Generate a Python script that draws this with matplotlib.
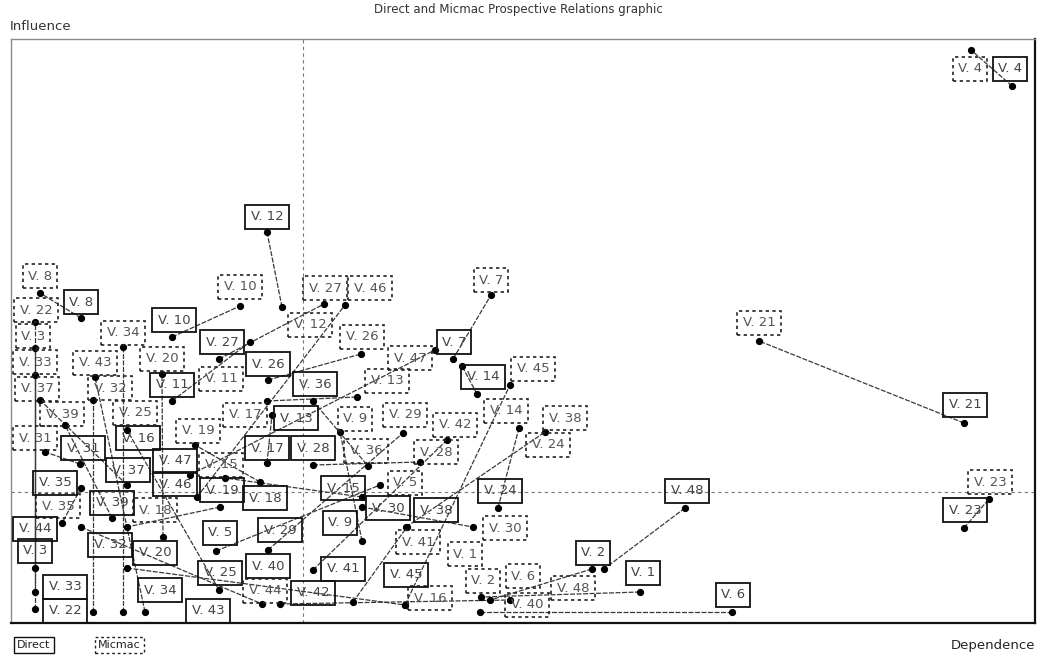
import matplotlib
matplotlib.use("Agg")
import matplotlib.pyplot as plt

# variable names V.1 .. V.48
names = ["V. %d" % i for i in range(1, 49)]

# direct classification (dependence, influence)
direct_dep = [629, 581, 24, 1001, 205, 721, 442, 70, 351, 161,
              161, 256, 256, 466, 351, 116, 256, 209, 249, 152,
              953, 24, 953, 487, 208, 257, 208, 302, 257, 351,
              69, 82, 24, 112, 70, 302, 116, 395, 101, 269,
              342, 302, 134, 70, 394, 186, 179, 674]
direct_inf = [31, 54, 55, 537, 72, 11, 264, 305, 82, 286,
              222, 391, 222, 229, 126, 55, 160, 116, 141, 86,
              200, 14, 95, 115, 33, 243, 264, 158, 73, 116,
              159, 11, 31, 11, 135, 222, 138, 96, 105, 19,
              21, 53, 11, 96, 18, 126, 148, 115]

# micmac (indirect) classification
micmac_dep = [470, 479, 24, 960, 369, 469, 480, 29, 329, 229,
              239, 271, 346, 451, 214, 394, 261, 116, 184, 151,
              748, 24, 978, 508, 116, 350, 313, 409, 392, 462,
              34, 82, 24, 112, 51, 357, 29, 534, 54, 499,
              396, 436, 84, 251, 499, 334, 424, 593]
micmac_inf = [26, 23, 275, 573, 138, 11, 328, 330, 191, 317,
              281, 316, 226, 257, 145, 18, 208, 96, 178, 249,
              282, 301, 124, 195, 193, 269, 319, 161, 190, 96,
              171, 223, 248, 276, 100, 157, 223, 191, 198, 23,
              96, 183, 246, 19, 238, 318, 273, 54]

# where the labels ended up (after the program pushed them apart)
lab_direct = [(632, 50), (582, 70), (24, 72), (999, 554), (209, 90), (722, 28),
              (443, 281), (70, 321), (329, 100), (163, 303), (161, 238), (256, 406),
              (285, 205), (472, 246), (332, 135), (127, 185), (256, 175), (254, 125),
              (211, 133), (144, 70), (954, 218), (54, 12), (954, 113), (489, 132),
              (209, 50), (257, 259), (211, 281), (302, 175), (269, 93), (377, 115),
              (72, 175), (99, 78), (54, 36), (149, 33), (44, 140), (304, 239),
              (117, 153), (425, 113), (101, 120), (257, 57), (332, 54), (302, 30),
              (197, 12), (24, 94), (395, 48), (164, 139), (164, 162), (676, 132)]
lab_micmac = [(454, 69), (472, 42), (22, 287), (959, 554), (394, 140), (512, 47),
              (480, 343), (29, 347), (344, 204), (229, 336), (210, 244), (299, 298),
              (376, 242), (495, 212), (210, 158), (419, 25), (234, 208), (144, 113),
              (187, 192), (151, 264), (748, 300), (25, 313), (979, 141), (537, 178),
              (124, 210), (351, 286), (314, 335), (425, 171), (394, 208), (494, 95),
              (24, 185), (99, 235), (24, 261), (112, 290), (47, 117), (355, 172),
              (26, 234), (554, 205), (51, 209), (516, 18), (407, 81), (444, 198),
              (84, 260), (254, 32), (522, 254), (359, 335), (399, 265), (562, 35)]

mean_dep = 292
mean_inf = 131

W, H = 1037, 657
fig = plt.figure(figsize=(W / 100, H / 100), dpi=100, facecolor="white")
ax = fig.add_axes([11 / W, (H - 623) / H, 1024 / W, 584 / H])
ax.set_xlim(0, 1024)
ax.set_ylim(0, 584)
ax.set_xticks([])
ax.set_yticks([])
for s in ["top", "left"]:
    ax.spines[s].set_color("#8a8a8a")
    ax.spines[s].set_linewidth(1.0)
for s in ["bottom", "right"]:
    ax.spines[s].set_color("#111111")
    ax.spines[s].set_linewidth(1.6)

# mean lines
ax.axvline(mean_dep, color="#777777", lw=0.8, ls=(0, (3, 3)), zorder=1)
ax.axhline(mean_inf, color="#777777", lw=0.8, ls=(0, (3, 3)), zorder=1)

# displacement lines direct -> micmac
for i in range(len(names)):
    ax.plot([direct_dep[i], micmac_dep[i]], [direct_inf[i], micmac_inf[i]],
            color="#3a3a3a", lw=0.9, ls=(0, (4, 1.2)), zorder=2)

ax.plot(direct_dep, direct_inf, "o", color="black", ms=4.2, zorder=3)
ax.plot(micmac_dep, micmac_inf, "o", color="black", ms=4.2, zorder=3)

for i, n in enumerate(names):
    x, y = lab_direct[i]
    ax.text(x, y, n, ha="center", va="center", fontsize=9.5, color="#444444",
            zorder=4, bbox=dict(boxstyle="square,pad=0.4", fc="none",
                                ec="#111111", lw=1.3))
    x, y = lab_micmac[i]
    ax.text(x, y, n, ha="center", va="center", fontsize=9.5, color="#555555",
            zorder=4, bbox=dict(boxstyle="square,pad=0.4", fc="none",
                                ec="#222222", lw=1.2, ls=(0, (2, 2))))

fig.text(518 / W, 1 - 10 / H, "Direct and Micmac Prospective Relations graphic",
         ha="center", va="center", fontsize=8.5, color="#333333")
fig.text(10 / W, 1 - 26 / H, "Influence", ha="left", va="center",
         fontsize=9.5, color="#333333")
fig.text(1035 / W, 1 - 645 / H, "Dependence", ha="right", va="center",
         fontsize=9.5, color="#222222")
fig.text(17 / W, 1 - 645 / H, "Direct", ha="left", va="center", fontsize=8,
         color="#222222", bbox=dict(boxstyle="square,pad=0.3", fc="none",
                                    ec="#111111", lw=1.0))
fig.text(98 / W, 1 - 645 / H, "Micmac", ha="left", va="center", fontsize=8,
         color="#222222", bbox=dict(boxstyle="square,pad=0.3", fc="none",
                                    ec="#222222", lw=1.0, ls=(0, (2, 2))))

fig.savefig("out.png", dpi=100, facecolor="white")
